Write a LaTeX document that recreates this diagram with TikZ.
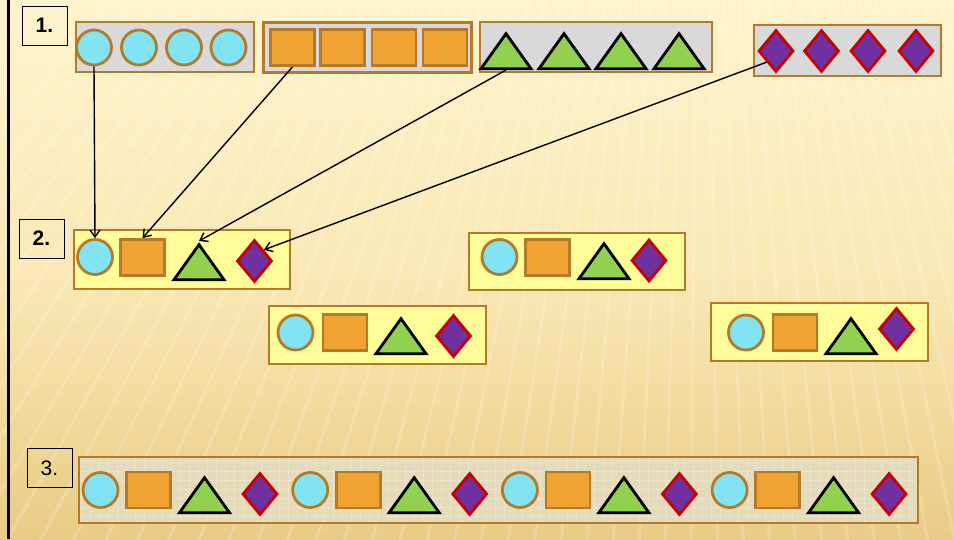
\documentclass[tikz,border=0pt]{standalone}
\usepackage{fontspec}
\setmainfont{Liberation Sans}
\usetikzlibrary{arrows.meta, shapes.geometric}
\definecolor{framebrown}{RGB}{180,122,42}
\definecolor{ballcyan}{RGB}{130,228,242}
\definecolor{blockorange}{RGB}{240,163,50}
\definecolor{trigreen}{RGB}{146,208,80}
\definecolor{gempurple}{RGB}{112,48,160}
\definecolor{gemred}{RGB}{200,0,0}
\definecolor{setgray}{RGB}{217,217,217}
\definecolor{setyellow}{RGB}{255,253,153}
\definecolor{setbeige}{RGB}{229,218,186}

\begin{document}
\begin{tikzpicture}[
      x=1pt, y=-1pt,
      setbox/.style={draw=framebrown, line width=2.7, inner sep=0},
      ball/.style={circle, draw=framebrown, fill=ballcyan, line width=2.8,
        minimum size=35, inner sep=0},
      block/.style={rectangle, draw=framebrown, fill=blockorange, line width=2.8,
        minimum width=44, minimum height=36, inner sep=0},
      tri/.style={isosceles triangle, isosceles triangle stretches, rotate=90,
        draw=black, fill=trigreen, line width=2.8,
        minimum width=50, minimum height=35, inner sep=0, anchor=apex},
      gem/.style={diamond, draw=gemred, fill=gempurple, line width=2.8,
        minimum width=35, minimum height=42, inner sep=0},
      numbox/.style={draw=black, line width=1, minimum width=45, minimum height=39,
        inner sep=0, font=\fontsize{21}{25}\selectfont},
      flow/.style={-{Straight Barb[length=7pt, width=10pt]}, line width=1.4}
    ]
    \useasboundingbox (0,0) rectangle (954,539);
    \fill[top color={rgb,255:red,253;green,243;blue,204},
          bottom color={rgb,255:red,232;green,204;blue,134},
          middle color={rgb,255:red,250;green,233;blue,182}]
      (0,0) rectangle (954,539);
    \begin{scope}
      \clip (0,0) rectangle (954,539);
      \foreach \a in {70,71.2,...,130}
        \draw[white, opacity=0.18, line width=3] (700,-700) -- ++(\a:1600);
    \end{scope}
    \draw[black, line width=2.5] (8.7,0) -- (8.7,539);

    \node[numbox, font=\fontsize{21}{25}\selectfont\bfseries] (lab1) at (44.5,25.5) {1.};
    \node[numbox, font=\fontsize{21}{25}\selectfont\bfseries] (lab2) at (41.5,238.5) {2.};
    \node[numbox] (lab3) at (49.5,468) {3.};

    \node[setbox, fill=setgray, minimum width=178, minimum height=50] (ballset) at (165,47) {};
    \node[setbox, fill=setgray, minimum width=208, minimum height=50] (blockset) at (367.5,47.5) {};
    \node[setbox, fill=setgray, minimum width=232, minimum height=50] (triset) at (596,47) {};
    \node[setbox, fill=setgray, minimum width=187, minimum height=51] (gemset) at (847.5,50.5) {};

    \foreach \x [count=\i] in {94,139,184,228.5}
      \node[ball] (ball\i) at (\x,47.5) {};
    \foreach \x [count=\i] in {292.5,342.5,394,445}
      \node[block] (block\i) at (\x,47.5) {};
    \foreach \x [count=\i] in {506,564,621,679}
      \node[tri] (tri\i) at (\x,30) {};
    \foreach \x [count=\i] in {776,821.5,868,916}
      \node[gem] (gem\i) at (\x,51) {};

    \node[setbox, fill=setyellow, minimum width=216, minimum height=59] (groupA) at (182,259.5) {};
    \node[ball] (ballA) at (95,257) {};
    \node[block] (blockA) at (142.5,257.5) {};
    \node[tri] (triA) at (199,241) {};
    \node[gem] (gemA) at (254.5,261) {};

    \node[setbox, fill=setyellow, minimum width=216, minimum height=57] (groupB) at (577,261.5) {};
    \node[ball] (ballB) at (499.5,257) {};
    \node[block] (blockB) at (547.5,257.5) {};
    \node[tri] (triB) at (604,240) {};
    \node[gem] (gemB) at (649,260.5) {};

    \node[setbox, fill=setyellow, minimum width=217, minimum height=58] (groupC) at (377.5,335) {};
    \node[ball] (ballC) at (295.5,332.5) {};
    \node[block] (blockC) at (345,332.5) {};
    \node[tri] (triC) at (401,315) {};
    \node[gem] (gemC) at (453.5,336) {};

    \node[setbox, fill=setyellow, minimum width=217, minimum height=58] (groupD) at (819.5,332) {};
    \node[ball] (ballD) at (746,332.5) {};
    \node[block] (blockD) at (795,332.5) {};
    \node[tri] (triD) at (851,315) {};
    \node[gem] (gemD) at (896.5,329) {};

    \node[setbox, fill=setbeige, minimum width=839, minimum height=66] (chain) at (498.5,490) {};
    \foreach \x in {81,90,...,916}
      \draw[white, opacity=0.22, line width=0.5] (\x,459) -- (\x,521);
    \foreach \y in {462,471,...,521}
      \draw[white, opacity=0.22, line width=0.5] (81,\y) -- (916,\y);
    \foreach \k in {0,1,2,3} {
      \pgfmathsetmacro{\bx}{100.5+209.7*\k}
      \node[ball] (ballR\k) at (\bx,490) {};
      \node[block] (blockR\k) at (\bx+48,490) {};
      \node[tri] (triR\k) at (\bx+104,474) {};
      \node[gem] (gemR\k) at (\bx+159.5,494) {};
    }

    \draw[flow] (ball1.south) -- (ballA.north);
    \draw[flow] (block1.south) -- (blockA.north);
    \draw[flow] (tri1.lower side) -- (triA.apex);
    \draw[flow] (gem1.south west) -- (gemA.north east);
  \end{tikzpicture}
\end{document}
